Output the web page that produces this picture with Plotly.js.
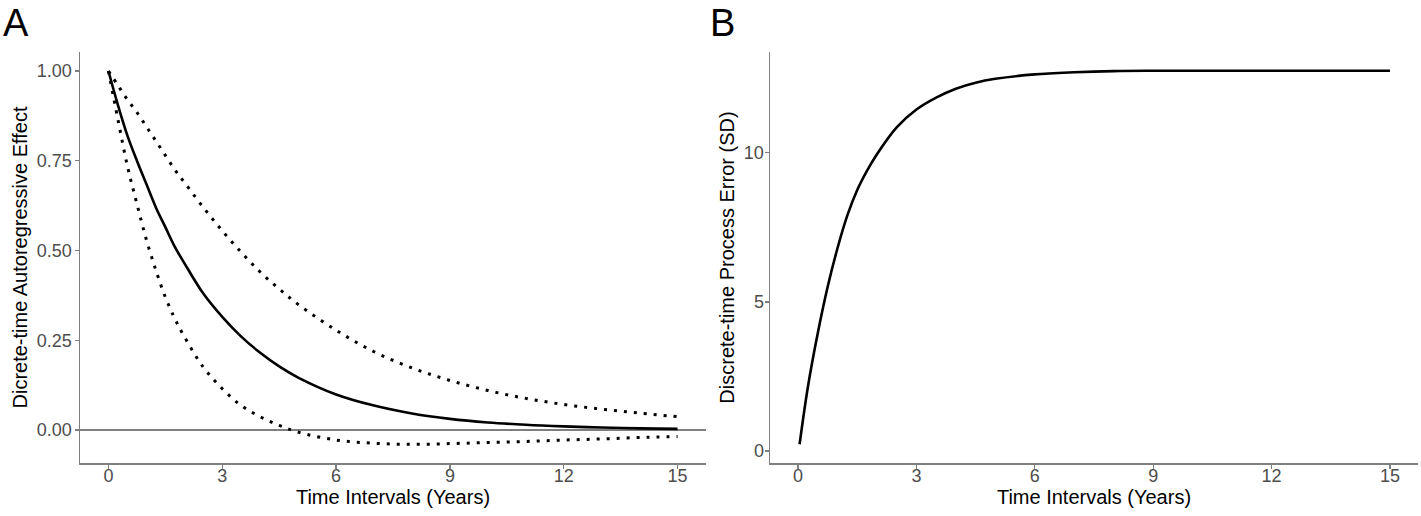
<!DOCTYPE html>
<html>
<head>
<meta charset="utf-8">
<script src="https://cdn.plot.ly/plotly-3.0.1.min.js"></script>
<style>
html,body{margin:0;padding:0;background:#fff;}
#chart{width:1421px;height:516px;}
</style>
</head>
<body>
<div id="chart"></div>
<script>
// ---- Panel A data: discrete-time autoregressive effect ----
const timeA = [0, 0.25, 0.5, 0.75, 1, 1.25, 1.5, 1.75, 2, 2.5, 3, 3.5, 4, 4.5, 5, 6, 7, 8, 9, 10, 11, 12, 13, 14, 15];
const arEstimate = [1.00, 0.905, 0.82, 0.75, 0.685, 0.62, 0.565, 0.51, 0.465, 0.38, 0.315, 0.26, 0.215, 0.177, 0.146, 0.099, 0.068, 0.046, 0.031, 0.021, 0.0145, 0.010, 0.0067, 0.0045, 0.003];
const arUpper = [1.00, 0.96, 0.92, 0.885, 0.845, 0.805, 0.765, 0.725, 0.69, 0.62, 0.555, 0.495, 0.44, 0.393, 0.35, 0.278, 0.218, 0.173, 0.138, 0.11, 0.088, 0.071, 0.058, 0.047, 0.037];
const arLower = [1.00, 0.865, 0.735, 0.63, 0.53, 0.445, 0.37, 0.31, 0.26, 0.175, 0.115, 0.068, 0.037, 0.013, -0.006, -0.028, -0.037, -0.040, -0.038, -0.035, -0.032, -0.028, -0.025, -0.021, -0.018];

// ---- Panel B data: discrete-time process error (SD) ----
const timeB = [0.04, 0.25, 0.5, 0.75, 1, 1.25, 1.5, 1.75, 2, 2.5, 3, 3.5, 4, 4.5, 5, 6, 7, 8, 9, 10, 12, 15];
const processError = [0.23, 2.15, 3.95, 5.5, 6.8, 7.9, 8.75, 9.4, 9.95, 10.85, 11.45, 11.85, 12.15, 12.35, 12.48, 12.63, 12.7, 12.74, 12.75, 12.75, 12.75, 12.75];

// ---- Tick labels ----
const xTicks = [0, 3, 6, 9, 12, 15];
const yTicksA = [0, 0.25, 0.5, 0.75, 1];
const yTickTextA = ['0.00', '0.25', '0.50', '0.75', '1.00'];
const yTicksB = [0, 5, 10];

const W = 1421, H = 516;
const FONT = 'Liberation Sans, Arial, sans-serif';
const tickFont = {family: FONT, size: 18, color: '#4d4d4d'};
const titleFont = {family: FONT, size: 20, color: '#000'};
const axisCommon = {
  showline: true, linecolor: '#7f7f7f', linewidth: 1.5,
  ticks: 'outside', ticklen: 4, tickwidth: 1.3, tickcolor: '#7f7f7f',
  showgrid: false, zeroline: false, tickfont: tickFont
};

const traces = [
  {x: timeA, y: arUpper, xaxis: 'x', yaxis: 'y', mode: 'lines', line: {color: '#000', width: 3, dash: '3px,7px', shape: 'spline'}},
  {x: timeA, y: arLower, xaxis: 'x', yaxis: 'y', mode: 'lines', line: {color: '#000', width: 3, dash: '3px,7px', shape: 'spline'}},
  {x: timeA, y: arEstimate, xaxis: 'x', yaxis: 'y', mode: 'lines', line: {color: '#000', width: 2.6, shape: 'spline'}},
  {x: timeB, y: processError, xaxis: 'x2', yaxis: 'y2', mode: 'lines', line: {color: '#000', width: 2.6, shape: 'spline'}}
];

const layout = {
  width: W, height: H,
  margin: {l: 0, r: 0, t: 0, b: 0},
  paper_bgcolor: '#fff', plot_bgcolor: '#fff',
  showlegend: false,
  xaxis: Object.assign({}, axisCommon, {
    domain: [80 / W, 706 / W], range: [-0.75, 15.75], anchor: 'y',
    tickvals: xTicks, ticklabelstandoff: -8,
    title: {text: 'Time Intervals (Years)', font: titleFont, standoff: 3}
  }),
  yaxis: Object.assign({}, axisCommon, {
    domain: [1 - 463 / H, 1 - 52 / H], range: [-0.092, 1.053], anchor: 'x',
    tickvals: yTicksA, ticktext: yTickTextA, ticklabelstandoff: -1,
    zeroline: true, zerolinecolor: '#7f7f7f', zerolinewidth: 1.5,
    title: {text: 'Dicrete-time Autoregressive Effect', font: titleFont, standoff: 4}
  }),
  xaxis2: Object.assign({}, axisCommon, {
    domain: [770 / W, 1418 / W], range: [-0.71, 15.71], anchor: 'y2',
    tickvals: xTicks, ticklabelstandoff: -8,
    title: {text: 'Time Intervals (Years)', font: titleFont, standoff: 3}
  }),
  yaxis2: Object.assign({}, axisCommon, {
    domain: [1 - 463 / H, 1 - 52 / H], range: [-0.40, 13.38], anchor: 'x2',
    tickvals: yTicksB, ticklabelstandoff: -3,
    title: {text: 'Discrete-time Process Error (SD)', font: titleFont, standoff: 4}
  }),
  annotations: [
    {text: 'A', xref: 'paper', yref: 'paper', x: 1 / W, y: 1, xanchor: 'left', yanchor: 'top', showarrow: false,
     font: {family: FONT, size: 38, color: '#000'}},
    {text: 'B', xref: 'paper', yref: 'paper', x: 708 / W, y: 1, xanchor: 'left', yanchor: 'top', showarrow: false,
     font: {family: FONT, size: 38, color: '#000'}}
  ]
};

Plotly.newPlot('chart', traces, layout, {displayModeBar: false, staticPlot: true});
</script>
</body>
</html>
